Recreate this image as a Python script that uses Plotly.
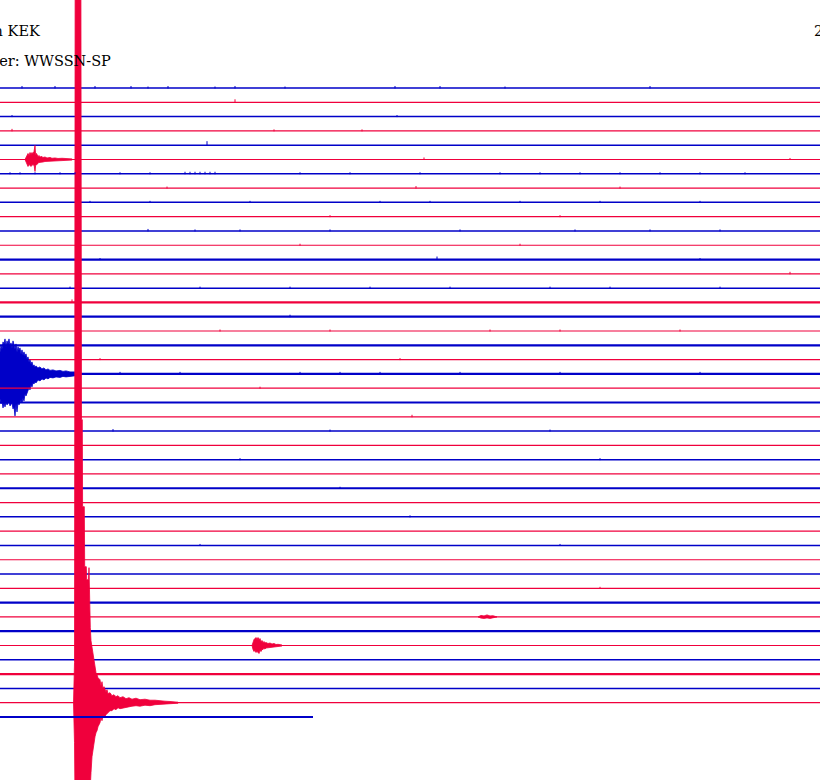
import plotly.graph_objects as go

# ---------------- data ----------------
N_LINES = 45                     # helicorder rows, alternating blue / red
LINE_END = [820] * 44 + [313]    # time (s) at which each row's record ends
X_MAX = 820

TITLE_1 = "Station KEK"
TITLE_2 = "Filter: WWSSN-SP"
DATE_TEXT = "2"

# amplitude unit: pixels of deflection (converted by the axis scale below)
# event on row 5 (local event)
EV5_X = [25, 26.5, 28, 29, 30, 31, 32, 33, 34, 35, 35.6, 36.5, 38, 39, 40, 42, 43, 45, 47, 50, 52, 55, 58, 62, 65, 72]
EV5_UP = [0, 3, 6, 4, 7, 5, 7, 6, 8, 14, 5, 6, 3, 4, 2.5, 3, 2, 2.5, 1.5, 2, 1.2, 1.5, 1, 1.2, 0.8, 0.6]
EV5_DN = [0, 3, 7, 5, 6, 7, 5, 6, 5, 12, 6, 5, 4, 3, 3, 2.5, 2.5, 2, 2, 1.5, 1.5, 1.2, 1.2, 1, 0.8, 0.6]

# event on row 20 (large event at the start of the row)
EV20_X = [0, 1, 2, 3, 4, 5, 6, 7, 8, 9, 10, 11, 12, 13, 14, 15, 16, 17, 18, 19, 20, 21, 22, 23,
          24, 25, 26, 27, 28, 29, 30, 31, 32, 33, 34, 35, 36, 38, 40, 42, 44, 46, 48, 50, 53, 56,
          60, 63, 66, 70, 74, 78]
EV20_UP = [22, 28, 25, 32, 30, 35, 27, 33, 30, 35, 28, 31, 26, 33, 29, 25, 30, 22, 27, 24, 26, 20,
           24, 19, 22, 18, 20, 15, 17, 12, 14, 10, 12, 8, 9, 7, 8, 6, 7, 5, 6, 4, 5, 3.5, 4, 3,
           3.5, 2.5, 3, 2, 2, 1.5]
EV20_DN = [25, 30, 27, 34, 29, 33, 28, 31, 30, 28, 32, 30, 29, 35, 33, 42, 30, 38, 29, 31, 28, 26,
           29, 24, 27, 20, 22, 18, 17, 14, 16, 11, 13, 9, 10, 8, 9, 6, 7, 5, 6, 4, 5, 3.5, 4, 3,
           3.5, 2.5, 3, 2, 2, 1.5]

# small event on row 37
EV37_X = [478, 481, 484, 487, 490, 493, 497]
EV37_UP = [0, 1.5, 1, 2, 1, 1.2, 0]
EV37_DN = [0, 1.2, 1.5, 1, 1.5, 1, 0]

# event on row 39
EV39_X = [252, 253, 254, 255, 256, 257, 258, 259, 260, 261, 262, 263, 264, 265, 266, 268, 270, 272, 274, 276, 278, 282]
EV39_UP = [0, 4, 6, 7, 8, 6, 8, 6, 7, 4, 5, 3, 4, 2.5, 3, 2, 2.5, 1.5, 2, 1, 1.2, 0.5]
EV39_DN = [0, 4, 6, 5, 7, 6, 7, 8, 5, 6, 4, 4, 3, 3.5, 2.5, 2.5, 2, 2, 1.5, 1.2, 1, 0.5]

# huge event on row 43 (clipped off both edges of the drum)
EV43_X = [73.5, 74.5, 75.2, 80.8, 81.5, 82.3, 82.6, 84.3, 84.7, 86.3, 86.7, 88.5, 89.0, 89.5, 90.3,
          91, 92, 93, 94, 95, 96, 97, 98, 100, 101, 102, 103, 104, 106, 107, 108, 110, 112, 114,
          116, 118, 120, 123, 126, 129, 132, 136, 140, 145, 150, 155, 160, 165, 170, 178]
EV43_UP = [0, 40, 800, 800, 283, 283, 196, 196, 136, 136, 123, 123, 135, 100, 75,
           62, 55, 46, 40, 34, 30, 28, 25, 23, 17, 21, 14, 16, 11, 13, 9, 10, 7, 8,
           6, 7, 5, 6, 4, 5, 3.5, 4.5, 3, 3.5, 2.5, 2.5, 1.8, 1.5, 1.2, 0.5]
EV43_DN = [0, 40, 120, 120, 120, 120, 120, 120, 120, 120, 120, 120, 120, 120, 90,
           70, 54, 48, 40, 34, 30, 28, 24, 20, 15, 18, 13, 15, 12, 10, 10, 8, 8, 6,
           7, 5, 6, 5, 5, 4, 3.5, 3, 3.5, 2.5, 3, 2, 2, 1.2, 1, 0.5]

EVENTS = [(5, EV5_X, EV5_UP, EV5_DN), (20, EV20_X, EV20_UP, EV20_DN),
          (37, EV37_X, EV37_UP, EV37_DN), (39, EV39_X, EV39_UP, EV39_DN),
          (43, EV43_X, EV43_UP, EV43_DN)]

# small noise spikes: row, time, up, down (pixels)
TICK_ROW = [0]*13 + [1] + [2]*2 + [3]*3 + [4] + [5]*2 + [6]*24 + [7]*3 + [8]*8 + [9]*2 + [10]*8 \
    + [11]*2 + [12]*3 + [13] + [14]*8 + [15] + [16] + [17]*6 + [19]*2 + [20]*8 + [21] + [23] \
    + [24]*3 + [26]*2 + [28] + [30] + [32]*2 + [35]
TICK_X = [22, 55, 95, 131, 148, 168, 215, 235, 285, 395, 440, 505, 650,
          235,
          12, 397,
          12, 274, 362,
          207,
          424, 790,
          10, 20, 35, 60, 75, 120, 150, 185, 190, 195, 200, 205, 210, 215, 300, 350, 420, 500, 540,
          580, 620, 660, 700, 745,
          167, 416, 620,
          90, 150, 250, 380, 430, 520, 600, 700,
          330, 560,
          148, 195, 240, 330, 460, 575, 650, 720,
          300, 520,
          437, 100, 700,
          790,
          70, 200, 290, 370, 450, 550, 610, 720,
          72,
          290,
          80, 220, 330, 490, 560, 680,
          100, 400,
          120, 180, 300, 340, 380, 460, 560, 700,
          260,
          412,
          113, 330, 550,
          240, 600,
          340,
          410,
          200, 560,
          600]
TICK_UP = [2, 2, 2, 2, 1.5, 2, 1.5, 2, 1.5, 2, 2, 1.5, 2,
           3,
           1.5, 1.5,
           2, 1.5, 1.5,
           4,
           2, 1.5,
           1.5, 1.5, 1.5, 1.5, 1.5, 1.5, 1.5, 2, 2, 2, 2, 2, 2, 2, 1.5, 1.5, 1.5, 1.5, 1.5,
           1.5, 1.5, 1.5, 1.5, 1.5,
           1.5, 2, 1.5,
           1.5, 1.5, 1.5, 1.5, 1.5, 1.5, 1.5, 1.5,
           1.5, 1.5,
           2, 1.5, 1.5, 1.5, 1.5, 1.5, 1.5, 1.5,
           1.5, 1.5,
           3, 1.5, 1.5,
           2,
           1.5, 1.5, 1.5, 1.5, 1.5, 1.5, 1.5, 1.5,
           3,
           2,
           1.5, 1.5, 1.5, 1.5, 1.5, 1.5,
           1.5, 1.5,
           2, 2, 2, 2, 2, 2, 2, 2,
           1.5,
           2,
           2, 1.5, 1.5,
           1.5, 1.5,
           1.5,
           1.5,
           1.5, 1.5,
           1.5]
TICK_DN = [0.5] * len(TICK_UP)

# ---------------- layout constants (styles / geometry) ----------------
W, H = 820, 780
TOP_PX = 88.0          # pixel row of first trace
SPACING_PX = 14.295    # pixel distance between traces
BLUE = "#0000C8"
RED = "#F0003C"
THICK_ROWS = {12, 15, 16, 18, 20, 22, 28, 36, 38, 41, 44}


def px(a):
    """pixel deflection -> row units"""
    return a / SPACING_PX


fig = go.Figure()

ticks_by_color = {BLUE: ([], []), RED: ([], [])}
for r, x, u, d in zip(TICK_ROW, TICK_X, TICK_UP, TICK_DN):
    col = BLUE if r % 2 == 0 else RED
    xs, ys = ticks_by_color[col]
    xs += [x, x, None]
    ys += [r - px(u), r + px(d), None]

for i in range(N_LINES):
    col = BLUE if i % 2 == 0 else RED
    width = 2.2 if i in THICK_ROWS else (1.5 if col == BLUE else 1.2)
    fig.add_trace(go.Scatter(x=[0, LINE_END[i]], y=[i, i], mode="lines",
                             line=dict(color=col, width=width), hoverinfo="skip"))
    for row, ex, eu, ed in EVENTS:
        if row != i:
            continue
        xs = list(ex) + list(ex[::-1])
        ys = [row - px(u) for u in eu] + [row + px(d) for d in ed[::-1]]
        fig.add_trace(go.Scatter(x=xs, y=ys, mode="lines", fill="toself",
                                 fillcolor=col, line=dict(color=col, width=0.8),
                                 hoverinfo="skip"))

for col, (xs, ys) in ticks_by_color.items():
    fig.add_trace(go.Scatter(x=xs, y=ys, mode="lines", line=dict(color=col, width=1),
                             hoverinfo="skip"))

y_top = -TOP_PX / SPACING_PX
y_bot = (H - TOP_PX) / SPACING_PX

font = dict(family="DejaVu Serif, Liberation Serif, serif", size=14.5, color="black")
fig.add_annotation(text=TITLE_1, xref="paper", yref="paper", x=43 / W, y=1 - 31 / H,
                   xanchor="right", yanchor="middle", showarrow=False, font=font)
fig.add_annotation(text=TITLE_2, xref="paper", yref="paper", x=113 / W, y=1 - 61 / H,
                   xanchor="right", yanchor="middle", showarrow=False, font=font)
fig.add_annotation(text=DATE_TEXT, xref="paper", yref="paper", x=812 / W, y=1 - 31 / H,
                   xanchor="left", yanchor="middle", showarrow=False, font=font)

fig.update_layout(
    width=W, height=H, margin=dict(l=0, r=0, t=0, b=0, pad=0),
    paper_bgcolor="white", plot_bgcolor="white", showlegend=False,
    xaxis=dict(range=[0, X_MAX], visible=False, fixedrange=True),
    yaxis=dict(range=[y_bot, y_top], visible=False, fixedrange=True),
)

fig.write_html("out.html", config={"displayModeBar": False},
               post_script="document.body.style.margin='0';document.body.style.overflow='hidden';")
